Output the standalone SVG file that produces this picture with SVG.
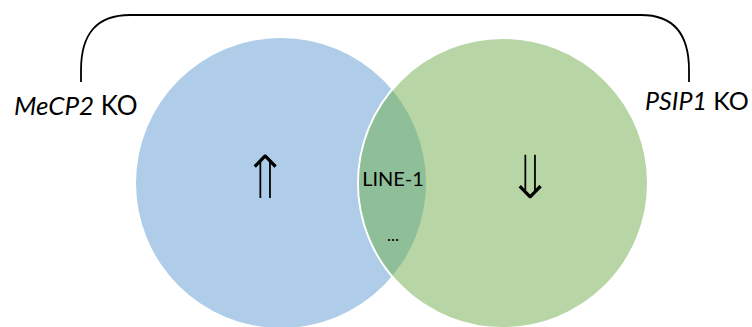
<svg xmlns="http://www.w3.org/2000/svg" width="752" height="327" viewBox="0 0 752 327">
  <style>
    .lbl { font-family: Lato, "Liberation Sans", Arial, sans-serif; fill: #000; }
    .sym { font-family: "DejaVu Sans", sans-serif; fill: #000; stroke-width: 1.3; }
    .bracket { fill: none; stroke: #000; stroke-width: 1.8; }
  </style>
  <defs>
    <clipPath id="clipBlue">
      <circle cx="281" cy="183" r="145"/>
    </clipPath>
  </defs>
  <rect width="752" height="327" fill="#fff"/>

  <g id="set-mecp2">
    <circle cx="281" cy="183" r="145" fill="#afcde9"/>
  </g>
  <g id="set-psip1">
    <circle cx="503" cy="183" r="145" fill="#b8d6a5" stroke="#fff" stroke-width="2"/>
  </g>
  <g id="overlap">
    <circle cx="503" cy="183" r="144" fill="#8fbf98" clip-path="url(#clipBlue)"/>
    <text class="lbl" x="393" y="186" font-size="20" text-anchor="middle">LINE-1</text>
    <text class="lbl" x="393" y="241" font-size="17" text-anchor="middle">...</text>
  </g>

  <!-- double arrows, thinned by a stroke in the circle colour -->
  <g id="arrows">
    <text class="sym" stroke="#afcde9" transform="translate(265,199) scale(1.3,1.35)" font-size="46" text-anchor="middle">⇑</text>
    <text class="sym" stroke="#b8d6a5" transform="translate(530,199) scale(1.3,1.35)" font-size="46" text-anchor="middle">⇓</text>
  </g>

  <g id="connectors">
    <path class="bracket" d="M81,82 L81,70 Q81,15 130,15 L641,15 Q689,15 689,70 L689,82"/>
  </g>

  <g id="label-mecp2">
    <text class="lbl" x="14" y="115" font-size="26"><tspan font-style="italic">MeCP2</tspan> KO</text>
  </g>
  <g id="label-psip1">
    <text class="lbl" x="645" y="110" font-size="25"><tspan font-style="italic">PSIP1</tspan> KO</text>
  </g>
</svg>
